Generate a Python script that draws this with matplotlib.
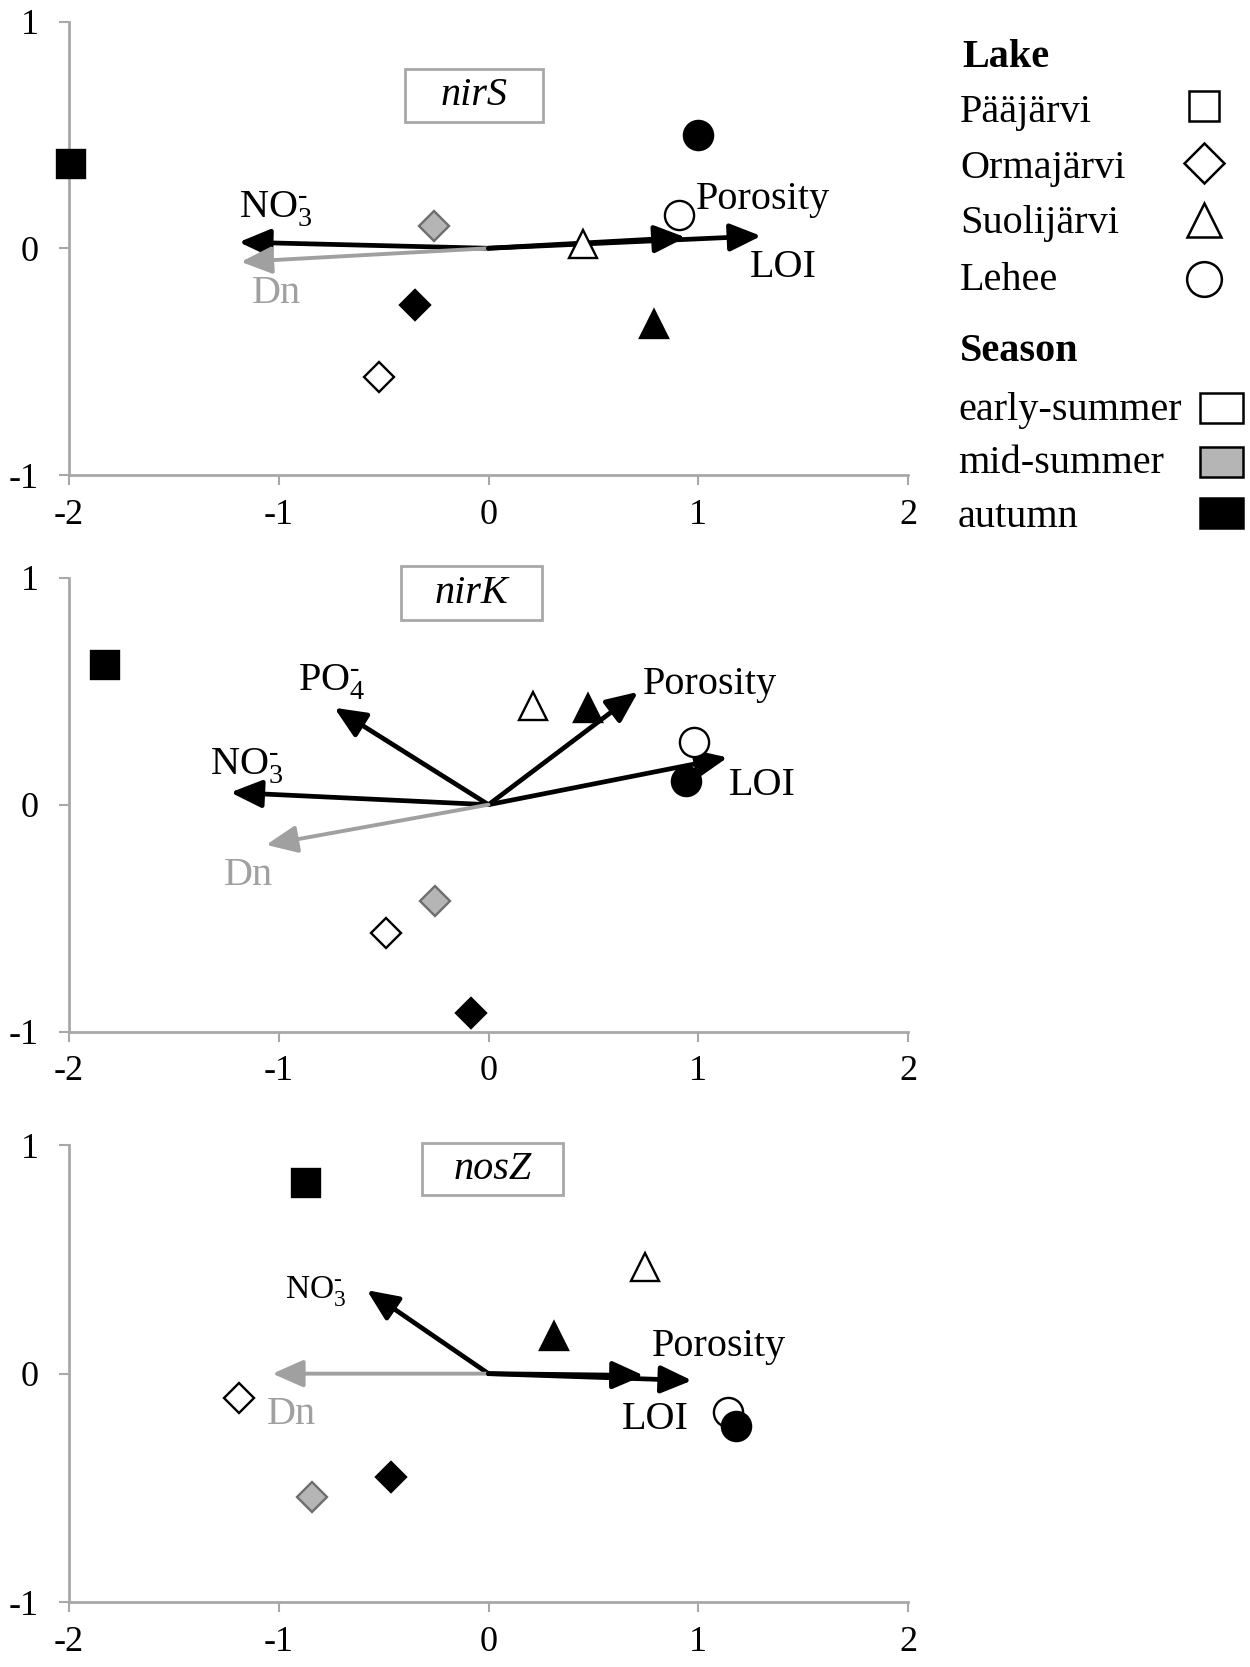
import matplotlib
matplotlib.use("Agg")
import matplotlib.pyplot as plt
from matplotlib.patches import Rectangle

plt.rcParams['font.family'] = ['Liberation Serif', 'DejaVu Serif']
plt.rcParams['mathtext.fontset'] = 'custom'
plt.rcParams['mathtext.rm'] = 'Liberation Serif'
plt.rcParams['mathtext.it'] = 'Liberation Serif:italic'
plt.rcParams['axes.unicode_minus'] = False

# ---------------- data ----------------
lakes = ['Pääjärvi', 'Ormajärvi', 'Suolijärvi', 'Lehee']
seasons = ['early-summer', 'mid-summer', 'autumn']
lake_markers = ['s', 'D', '^', 'o']
season_faces = ['white', '#b5b5b5', 'black']
season_edges = ['black', '#6e6e6e', 'black']

# nirS
nirS_lake = [0, 3, 3, 1, 2, 1, 2, 1]
nirS_season = [2, 2, 0, 1, 0, 2, 2, 0]
nirS_x = [-1.99, 1.00, 0.91, -0.26, 0.45, -0.35, 0.79, -0.52]
nirS_y = [0.37, 0.50, 0.145, 0.10, 0.02, -0.25, -0.335, -0.567]
nirS_vec = ['NO3', 'Dn', 'Porosity', 'LOI']
nirS_vx = [-1.19, -1.18, 0.94, 1.30]
nirS_vy = [0.027, -0.06, 0.048, 0.054]
nirS_lx = [-1.19, -1.13, 0.99, 1.245]
nirS_ly = [0.17, -0.20, 0.215, -0.085]

# nirK
nirK_lake = [0, 2, 2, 3, 3, 1, 1, 1]
nirK_season = [2, 0, 2, 0, 2, 1, 0, 2]
nirK_x = [-1.83, 0.21, 0.475, 0.98, 0.94, -0.255, -0.49, -0.085]
nirK_y = [0.615, 0.435, 0.425, 0.275, 0.105, -0.426, -0.565, -0.917]
nirK_vec = ['PO4', 'Porosity', 'NO3', 'LOI', 'Dn']
nirK_vx = [-0.735, 0.713, -1.23, 1.14, -1.06]
nirK_vy = [0.427, 0.497, 0.054, 0.208, -0.177]
nirK_lx = [-0.91, 0.735, -1.33, 1.147, -1.26]
nirK_ly = [0.54, 0.53, 0.17, 0.084, -0.31]

# nosZ
nosZ_lake = [0, 2, 2, 1, 3, 3, 1, 1]
nosZ_season = [2, 0, 2, 0, 0, 2, 2, 1]
nosZ_x = [-0.87, 0.746, 0.31, -1.19, 1.142, 1.18, -0.467, -0.843]
nosZ_y = [0.834, 0.466, 0.163, -0.105, -0.168, -0.228, -0.452, -0.541]
nosZ_vec = ['NO3', 'Dn', 'LOI', 'Porosity']
nosZ_vx = [-0.58, -1.03, 0.74, 0.97]
nosZ_vy = [0.365, 0.0, -0.008, -0.03]
nosZ_lx = [-0.97, -1.056, 0.635, 0.777]
nosZ_ly = [0.36, -0.177, -0.20, 0.12]

genes = ['nirS', 'nirK', 'nosZ']
title_box = [(-0.40, 0.556, 0.66, 0.236), (-0.415, 0.815, 0.67, 0.235), (-0.315, 0.78, 0.67, 0.23)]

vec_labels = {'NO3': r'NO$_3^{\text{-}}$', 'PO4': r'PO$_4^{\text{-}}$', 'Dn': 'Dn',
              'Porosity': 'Porosity', 'LOI': 'LOI'}

# ---------------- figure ----------------
W, H = 1250, 1667
fig = plt.figure(figsize=(W / 100, H / 100), dpi=100)

axes_rects = [
    [69 / W, 1 - 475 / H, 839 / W, 453.5 / H],
    [69 / W, 1 - 1031.7 / H, 839 / W, 454 / H],
    [69 / W, 1 - 1602.3 / H, 839 / W, 457.3 / H],
]

panels = [
    (nirS_lake, nirS_season, nirS_x, nirS_y, nirS_vec, nirS_vx, nirS_vy, nirS_lx, nirS_ly),
    (nirK_lake, nirK_season, nirK_x, nirK_y, nirK_vec, nirK_vx, nirK_vy, nirK_lx, nirK_ly),
    (nosZ_lake, nosZ_season, nosZ_x, nosZ_y, nosZ_vec, nosZ_vx, nosZ_vy, nosZ_lx, nosZ_ly),
]

spine_col = '#a8a8a8'
grey_arrow = '#a0a0a0'

for i, (rect, p) in enumerate(zip(axes_rects, panels)):
    lk, ss, xs, ys, vn, vx, vy, lx, ly = p
    ax = fig.add_axes(rect)
    ax.set_xlim(-2, 2)
    ax.set_ylim(-1, 1)
    for s in ['top', 'right']:
        ax.spines[s].set_visible(False)
    for s in ['left', 'bottom']:
        ax.spines[s].set_color(spine_col)
        ax.spines[s].set_linewidth(2)
    ax.set_xticks([-2, -1, 0, 1, 2])
    ax.set_yticks([-1, 0, 1])
    ax.tick_params(axis='both', direction='out', length=7, width=1.5, color=spine_col,
                   labelsize=26, labelcolor='black')
    ax.tick_params(axis='x', pad=10)
    ax.tick_params(axis='y', pad=15)
    ax.patch.set_alpha(0)

    # vectors
    for name, x, y in zip(vn, vx, vy):
        col = grey_arrow if name == 'Dn' else 'black'
        lw = 2.8 if name == 'Dn' else 3.4
        ax.annotate('', xy=(x, y), xytext=(0, 0),
                    arrowprops=dict(arrowstyle='-|>,head_length=0.95,head_width=0.42',
                                    mutation_scale=20, lw=lw, color=col,
                                    shrinkA=0, shrinkB=0),
                    zorder=2)
    for name, x, y in zip(vn, lx, ly):
        col = grey_arrow if name == 'Dn' else 'black'
        fs = 24 if (i == 2 and name == 'NO3') else 29
        ax.text(x, y, vec_labels[name], fontsize=fs, color=col, ha='left', va='center', zorder=4)

    # points
    for l, s, x, y in zip(lk, ss, xs, ys):
        m = lake_markers[l]
        ms = {'s': 20, 'D': 15, '^': 20, 'o': 21}[m]
        ax.plot([x], [y], linestyle='none', marker=m, markersize=ms,
                markerfacecolor=season_faces[s], markeredgecolor=season_edges[s],
                markeredgewidth=1.7, zorder=3, clip_on=False)

    # title box
    bx, by, bw, bh = title_box[i]
    ax.add_patch(Rectangle((bx, by), bw, bh, facecolor='white', edgecolor=spine_col,
                           linewidth=2, zorder=1, clip_on=False))
    ax.text(bx + bw / 2, by + bh / 2, genes[i], fontsize=29, fontstyle='italic',
            ha='center', va='center', zorder=1.5)

# ---------------- legend ----------------
lax = fig.add_axes([0, 0, 1, 1], zorder=-1)
lax.set_xlim(0, W)
lax.set_ylim(H, 0)
lax.axis('off')

lake_title_y = 67
lake_row_y = [122, 178, 233, 290]
lake_marker_y = [106, 163, 220, 279]
season_title_y = 361
season_row_y = [420, 473, 527]
season_rect_y = [393, 447, 498]

lax.text(962, lake_title_y, 'Lake', fontsize=29, fontweight='bold', ha='left', va='baseline')
for j, name in enumerate(lakes):
    lax.text(960, lake_row_y[j], name, fontsize=29, ha='left', va='baseline')
    m = lake_markers[j]
    ms = {'s': 21, 'D': 20, '^': 24, 'o': 25}[m]
    lax.plot([1204], [lake_marker_y[j]], linestyle='none', marker=m, markersize=ms,
             markerfacecolor='white', markeredgecolor='black', markeredgewidth=1.8)

lax.text(960, season_title_y, 'Season', fontsize=29, fontweight='bold', ha='left', va='baseline')
for j, name in enumerate(seasons):
    lax.text(958, season_row_y[j], name, fontsize=29, ha='left', va='baseline')
    lax.add_patch(Rectangle((1200, season_rect_y[j]), 43, 30, facecolor=season_faces[j],
                            edgecolor='black', linewidth=1.8))

fig.savefig('out.png', dpi=100)
